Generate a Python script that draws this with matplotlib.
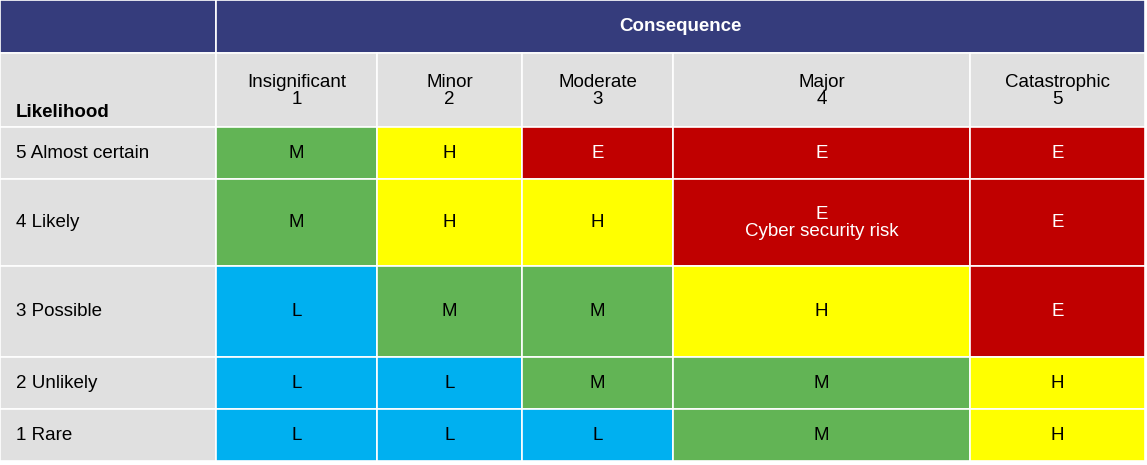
import matplotlib
matplotlib.use("Agg")
import matplotlib.pyplot as plt
from matplotlib.patches import Rectangle

consequences = ["Insignificant\n1", "Minor\n2", "Moderate\n3", "Major\n4", "Catastrophic\n5"]
likelihoods = ["5 Almost certain", "4 Likely", "3 Possible", "2 Unlikely", "1 Rare"]
ratings = [
    ["M", "H", "E", "E", "E"],
    ["M", "H", "H", "E\nCyber security risk", "E"],
    ["L", "M", "M", "H", "E"],
    ["L", "L", "M", "M", "H"],
    ["L", "L", "L", "M", "H"],
]

colors = {"L": "#00B0F0", "M": "#62B455", "H": "#FFFF00", "E": "#C00000"}
textcol = {"L": "black", "M": "black", "H": "black", "E": "white"}
xb = [0, 216, 377, 522, 673, 970, 1145]
yb = [0, 53, 127, 179, 266, 357, 409, 461]
navy = "#353C7C"
grey = "#E0E0E0"

fig = plt.figure(figsize=(11.47, 4.65), dpi=100)
ax = fig.add_axes([0, 0, 1, 1])
ax.set_xlim(0, 1147)
ax.set_ylim(465, 0)
ax.axis("off")
font = "Liberation Sans"

def cell(x0, x1, y0, y1, fc):
    ax.add_patch(Rectangle((x0, y0), x1 - x0, y1 - y0, facecolor=fc, edgecolor="white", lw=1.2))

cell(xb[0], xb[1], yb[0], yb[1], navy)
cell(xb[1], xb[-1], yb[0], yb[1], navy)
ax.text((xb[1] + xb[-1]) / 2, (yb[0] + yb[1]) / 2, "Consequence", color="white", fontsize=13.5,
        fontweight="bold", ha="center", va="center", family=font)
cell(xb[0], xb[1], yb[1], yb[2], grey)
ax.text(16, 112, "Likelihood", fontsize=13.5, fontweight="bold", ha="left", va="center", family=font)
for j, c in enumerate(consequences):
    cell(xb[j + 1], xb[j + 2], yb[1], yb[2], grey)
    ax.text((xb[j + 1] + xb[j + 2]) / 2, (yb[1] + yb[2]) / 2 + 1, c, fontsize=13.5, ha="center",
            va="center", family=font, linespacing=1.0)
for i, l in enumerate(likelihoods):
    y0, y1 = yb[i + 2], yb[i + 3]
    cell(xb[0], xb[1], y0, y1, grey)
    ax.text(16, (y0 + y1) / 2, l, fontsize=13.5, ha="left", va="center", family=font)
    for j, r in enumerate(ratings[i]):
        k = r[0]
        cell(xb[j + 1], xb[j + 2], y0, y1, colors[k])
        ax.text((xb[j + 1] + xb[j + 2]) / 2, (y0 + y1) / 2, r, fontsize=13.5, ha="center",
                va="center", family=font, color=textcol[k], linespacing=1.0)

fig.savefig("out.png", dpi=100, facecolor="white")
